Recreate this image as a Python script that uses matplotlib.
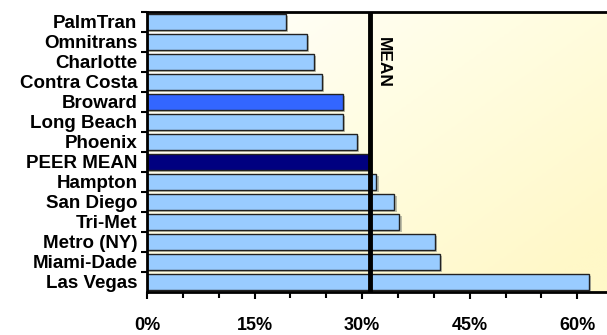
import numpy as np
import matplotlib
matplotlib.use("Agg")
import matplotlib.pyplot as plt
from matplotlib.ticker import MultipleLocator, FuncFormatter
from matplotlib.colors import LinearSegmentedColormap

categories = ["PalmTran", "Omnitrans", "Charlotte", "Contra Costa", "Broward",
              "Long Beach", "Phoenix", "PEER MEAN", "Hampton", "San Diego",
              "Tri-Met", "Metro (NY)", "Miami-Dade", "Las Vegas"]
values = [19.4, 22.3, 23.3, 24.4, 27.3, 27.3, 29.3, 31.0, 32.0, 34.5,
          35.2, 40.1, 40.8, 61.6]
mean_value = 31.1
xticks = [0, 15, 30, 45, 60]

plt.rcParams['font.family'] = ['Liberation Sans', 'DejaVu Sans']

fig = plt.figure(figsize=(6.07, 3.35), dpi=100)
ax = fig.add_axes([147/607, 1 - 292/335, (607 - 147)/607 + 0.01, (292 - 12)/335])

xmax = 65.0
n = len(categories)
ax.set_xlim(0, xmax)
ax.set_ylim(n - 0.5, -0.5)

# gradient background
gx = np.linspace(0, 1, 200)
gy = np.linspace(0, 1, 100)
GX, GY = np.meshgrid(gx, gy)
G = np.clip(0.6 * GX + 0.5 * GY, 0, 1)
cmap = LinearSegmentedColormap.from_list("bg", ["#FFFFFF", "#FFFDE2", "#FFF8C8"])
ax.imshow(G, cmap=cmap, extent=[0, xmax, n - 0.5, -0.5], aspect='auto', zorder=0)

colors = []
for c in categories:
    if c == "PEER MEAN":
        colors.append("#000080")
    elif c == "Broward":
        colors.append("#3366FF")
    else:
        colors.append("#99CCFF")

y = np.arange(n)
# shadow
ax.barh(y + 0.12, values, height=0.8, color="#BDBDA8", edgecolor="none", zorder=1, left=0.3)
ax.barh(y, values, height=0.8, color=colors, edgecolor="#222222", linewidth=1.0, zorder=2)

ax.axvline(mean_value, color="black", linewidth=3.5, zorder=3)
ax.text(mean_value + 0.8, 0.75, "MEAN", rotation=-90, ha="left", va="top",
        fontsize=12.5, fontweight="bold", zorder=4)

ax.set_yticks(y)
ax.set_yticklabels(categories, fontsize=13.5, fontweight="bold")
ax.set_yticks(np.arange(n) - 0.5, minor=True)
ax.tick_params(axis='y', which='major', length=0, pad=7)
ax.tick_params(axis='y', which='minor', length=4, width=1.5, direction='out')

ax.set_xticks(xticks)
ax.xaxis.set_minor_locator(MultipleLocator(5))
ax.xaxis.set_major_formatter(FuncFormatter(lambda v, p: f"{int(v)}%"))
ax.tick_params(axis='x', which='major', length=5, width=1.5, labelsize=13, pad=13)
ax.tick_params(axis='x', which='minor', length=4, width=1.5)
for lab in ax.get_xticklabels():
    lab.set_fontweight("bold")

for s in ["top", "bottom", "left", "right"]:
    ax.spines[s].set_linewidth(2)
    ax.spines[s].set_color("black")

fig.savefig("out.png", dpi=100)
